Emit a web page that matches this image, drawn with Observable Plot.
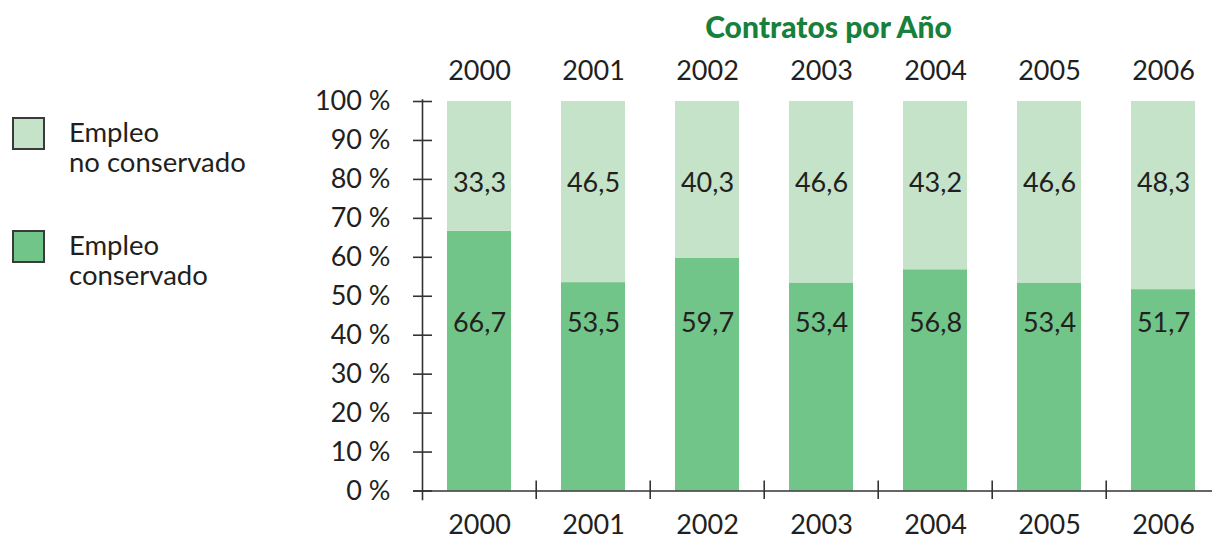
<!DOCTYPE html>
<html>
<head>
<meta charset="utf-8">
<script src="https://cdn.jsdelivr.net/npm/d3@7"></script>
<script src="https://cdn.jsdelivr.net/npm/@observablehq/plot@0.6"></script>
<style>
  html, body { margin: 0; padding: 0; background: #fff; }
  #wrap { position: relative; width: 1212px; height: 538px; font-family: Lato, "Open Sans", sans-serif; color: #231f20; }
  #chart { position: absolute; left: 0; top: 0; }
  .legend { position: absolute; left: 12px; font-size: 27.5px; line-height: 30px; }
  .legend .sw { position: absolute; left: 0; top: 0; width: 29px; height: 29px; border: 2px solid #3a3a3a; }
  .legend .lbl { position: absolute; left: 57px; top: 0px; white-space: nowrap; }
  #title { position: absolute; left: 0; width: 1212px; top: 8px; text-align: center; padding-left: 445px; box-sizing: border-box;
           font-family: Lato, sans-serif; font-weight: 900; font-size: 30px; color: #17803b; }
</style>
</head>
<body>
<div id="wrap">
  <div id="chart"></div>
  <div id="title"></div>
  <div id="legend"></div>
</div>
<script>
// ---- data ----
const years = ["2000", "2001", "2002", "2003", "2004", "2005", "2006"];
const conservado = [66.7, 53.5, 59.7, 53.4, 56.8, 53.4, 51.7];
const noConservado = [33.3, 46.5, 40.3, 46.6, 43.2, 46.6, 48.3];
const yTicks = [0, 10, 20, 30, 40, 50, 60, 70, 80, 90, 100];
const seriesNames = ["Empleo conservado", "Empleo no conservado"];
const legendNames = [["Empleo", "no conservado"], ["Empleo", "conservado"]];
const titleText = "Contratos por Año";
const colors = ["#72c588", "#c5e3c8"];

// ---- table ----
const rows = [];
years.forEach((y, i) => {
  rows.push({year: y, series: seriesNames[0], value: conservado[i]});
  rows.push({year: y, series: seriesNames[1], value: noConservado[i]});
});
const fmt = v => v.toFixed(1).replace(".", ",");

const W = 1212, H = 538;
const xRange = [420, 1222];
const step = (xRange[1] - xRange[0]) / years.length;
const font = "Lato, 'Open Sans', sans-serif";
const ink = "#231f20";

const chart = Plot.plot({
  width: W,
  height: H,
  marginLeft: 422,
  marginRight: 0,
  marginTop: 101,
  marginBottom: 47.5,
  style: {fontFamily: font, fontSize: "27px", color: ink, background: "transparent", overflow: "visible"},
  x: {domain: years, range: xRange, paddingInner: 0.44, paddingOuter: 0.22, align: 0.5},
  y: {domain: [0, 100]},
  color: {domain: seriesNames, range: colors},
  marks: [
    Plot.barY(rows, {x: "year", y: "value", fill: "series"}),
    Plot.text(rows, {
      x: "year",
      y: d => d.series === seriesNames[0] ? 43.1 : 79.1,
      text: d => fmt(d.value),
      fill: ink, fontSize: 27
    }),
    Plot.ruleY([0], {insetLeft: -9, stroke: "#333", strokeWidth: 1.6}),
    Plot.frame({anchor: "left", insetTop: -1.5, insetBottom: -8.5, stroke: "#333", strokeWidth: 1.6}),
    Plot.ruleX(years.slice(1), {x: d => d, dx: -step / 2, y1: 0, y2: 0, insetTop: -10, insetBottom: -8.5, stroke: "#333", strokeWidth: 1.6}),
    Plot.axisY(yTicks, {anchor: "left", tickSize: 19, dx: 10, tickFormat: () => "", label: null, stroke: "#333", strokeWidth: 1.6}),
    Plot.axisY(yTicks, {anchor: "left", tickSize: 0, tickPadding: 32, tickFormat: d => `${d} %`, label: null, fill: ink, fontSize: 27}),
    Plot.axisX({anchor: "top", tickSize: 0, tickPadding: 22, label: null, fill: ink, fontSize: 27}),
    Plot.axisX({anchor: "bottom", tickSize: 0, tickPadding: 24, label: null, fill: ink, fontSize: 27})
  ]
});
document.getElementById("chart").appendChild(chart);
document.getElementById("title").textContent = titleText;

// ---- legend (HTML) ----
const legend = document.getElementById("legend");
const legendTops = [117, 230];
[1, 0].forEach((si, k) => {
  const item = document.createElement("div");
  item.className = "legend";
  item.style.top = legendTops[k] + "px";
  const sw = document.createElement("div");
  sw.className = "sw";
  sw.style.background = colors[si];
  const lbl = document.createElement("div");
  lbl.className = "lbl";
  lbl.innerHTML = legendNames[k].join("<br>");
  item.appendChild(sw);
  item.appendChild(lbl);
  legend.appendChild(item);
});
</script>
</body>
</html>
